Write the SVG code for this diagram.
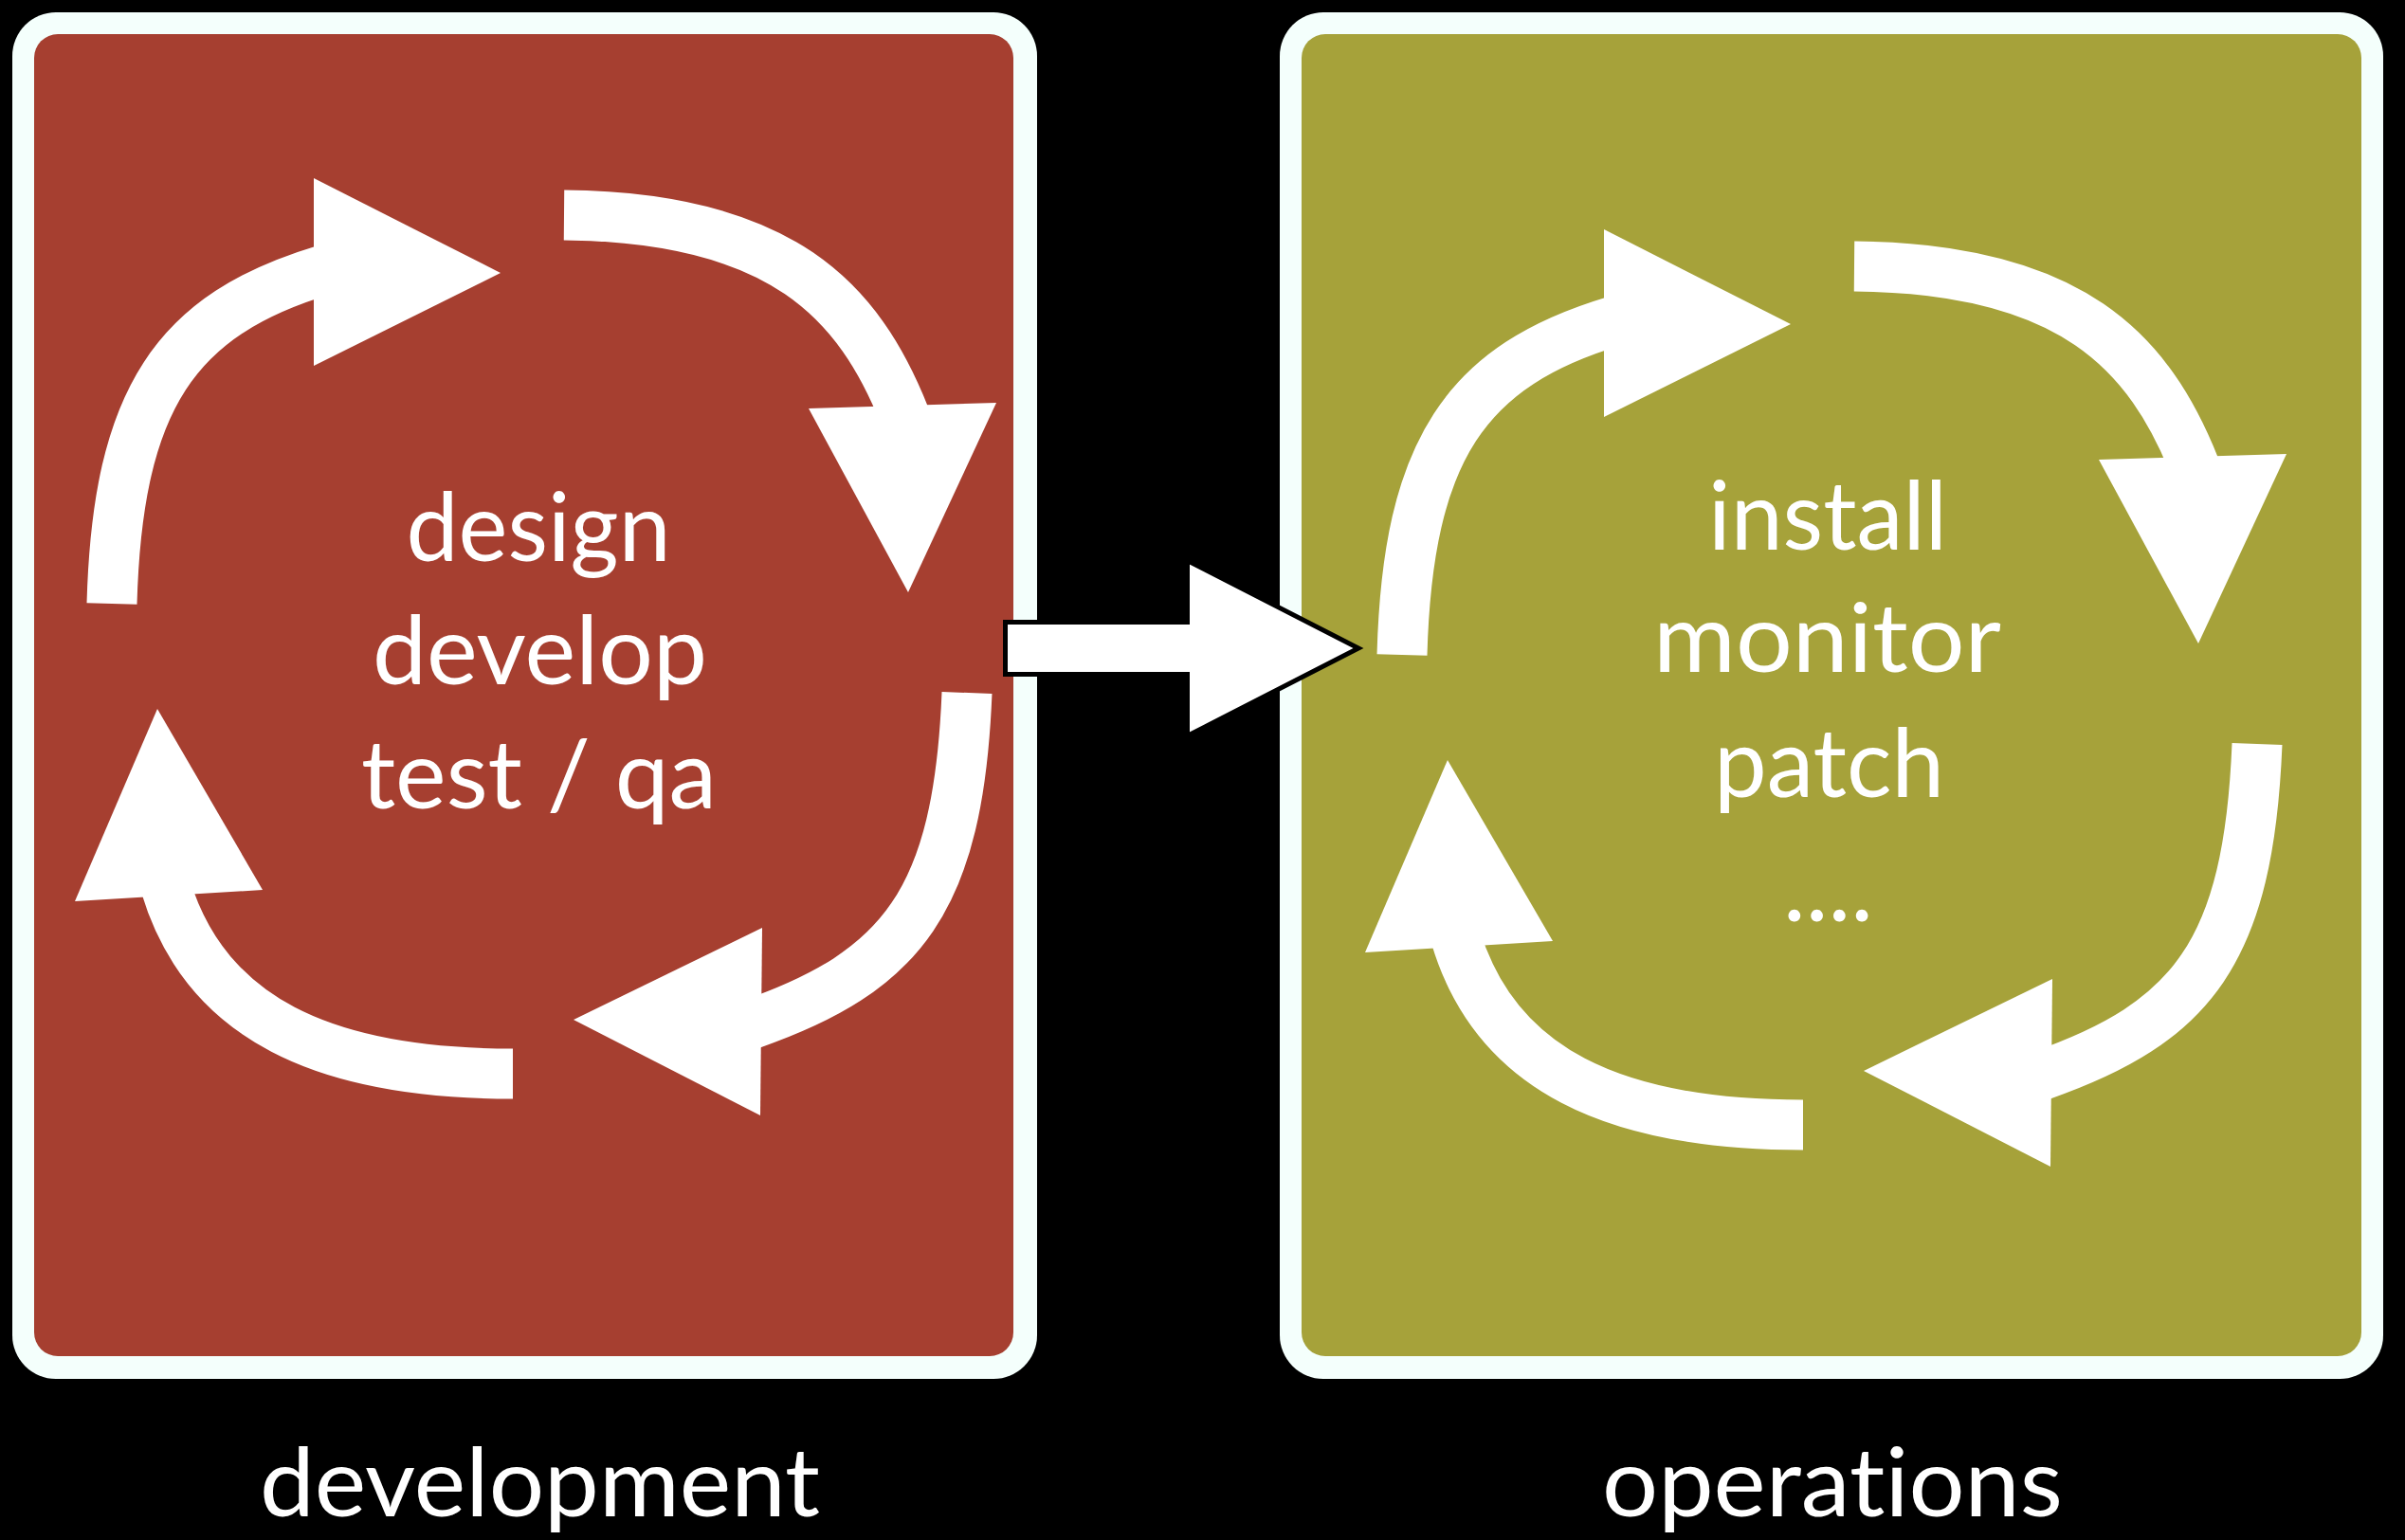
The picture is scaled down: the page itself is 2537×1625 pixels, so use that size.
<svg xmlns="http://www.w3.org/2000/svg" xmlns:xlink="http://www.w3.org/1999/xlink" width="2537" height="1625" viewBox="0 0 2537 1625">
<style>
.frame{fill:#f4fffc}
.dev{fill:#a63f30}
.ops{fill:#a6a23a}
.shaft{fill:none;stroke:#ffffff;stroke-width:53}
.head{fill:#ffffff}
.lbl{font-family:Lato,'Open Sans',sans-serif;font-size:100px;fill:#ffffff;text-anchor:middle;font-variant-ligatures:none;font-feature-settings:"liga" 0,"clig" 0}
.handoff{fill:#ffffff;stroke:#000000;stroke-width:5;stroke-linejoin:miter}
</style>
<defs>
<g id="cycle">
<path class="shaft" d="M118,637 C124,420 185.5,331.6 342.5,284.6"/>
<polygon class="head" points="331,188 528,288 331,386"/>
<path class="shaft" d="M595,227 C825,229 906.4,318.2 954.4,439.2"/>
<polygon class="head" points="853,431 1051,425 958,625"/>
<path class="shaft" d="M1020,731 C1011,951 951.7,1025 791.7,1081"/>
<polygon class="head" points="804,979 605,1076 802,1177"/>
<path class="shaft" d="M541,1133 C341,1133 216.5,1074.5 174.5,934.5"/>
<polygon class="head" points="79,951 166,748 277,939"/>
</g>
</defs>
<rect x="0" y="0" width="2537" height="1625" fill="#000000"/>
<g id="development">
<rect class="frame" x="13" y="13" width="1081" height="1442" rx="46"/>
<rect class="dev" x="36" y="36" width="1033" height="1395" rx="25"/>
<text class="lbl" x="568" y="592" textLength="279" lengthAdjust="spacingAndGlyphs">design</text>
<text class="lbl" x="569.5" y="722" textLength="353" lengthAdjust="spacingAndGlyphs">develop</text>
<text class="lbl" x="568.5" y="853" textLength="375" lengthAdjust="spacingAndGlyphs">test / qa</text>
<text class="lbl" x="569.5" y="1600" textLength="591" lengthAdjust="spacingAndGlyphs">development</text>
</g>
<g id="operations">
<rect class="frame" x="1350" y="13" width="1164" height="1442" rx="46"/>
<rect class="ops" x="1373" y="36" width="1118" height="1395" rx="25"/>
<text class="lbl" x="1928" y="580" textLength="252" lengthAdjust="spacingAndGlyphs">install</text>
<text class="lbl" x="1927.5" y="709" textLength="367" lengthAdjust="spacingAndGlyphs">monitor</text>
<text class="lbl" x="1929.5" y="841" textLength="243" lengthAdjust="spacingAndGlyphs">patch</text>
<text class="lbl" x="1928.5" y="972" textLength="95" lengthAdjust="spacingAndGlyphs">....</text>
<text class="lbl" x="1933" y="1600" textLength="486" lengthAdjust="spacingAndGlyphs">operations</text>
</g>
<g id="connectors">
<use xlink:href="#cycle" href="#cycle"/>
<use xlink:href="#cycle" href="#cycle" transform="translate(1361,54)"/>
<polygon class="handoff" points="1060.5,656.5 1252.5,656.5 1252.5,591.5 1433,684 1252.5,776.5 1252.5,711.5 1060.5,711.5"/>
</g>
</svg>
